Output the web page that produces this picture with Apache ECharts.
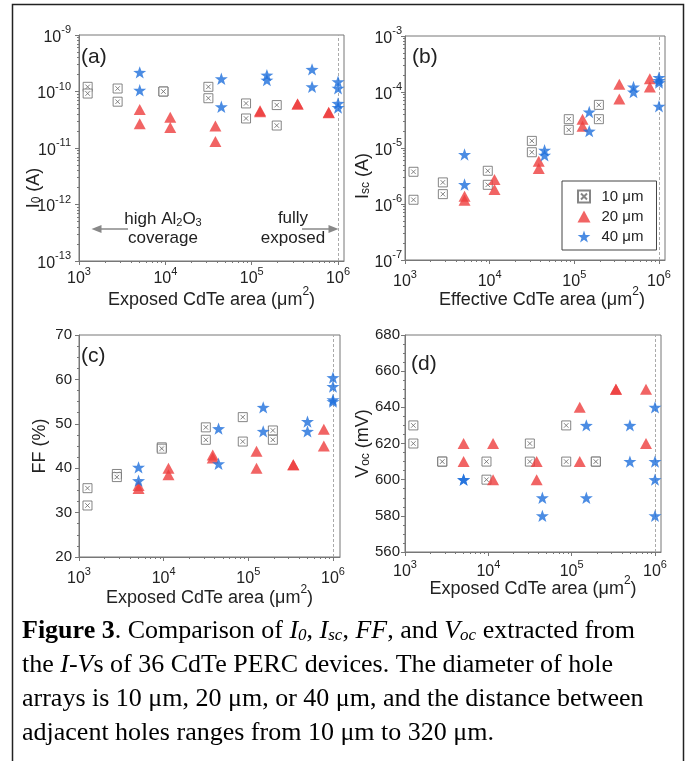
<!DOCTYPE html>
<html>
<head>
<meta charset="utf-8">
<title>Figure 3</title>
<script src="https://cdn.jsdelivr.net/npm/echarts@6/dist/echarts.min.js"></script>
<style>
html,body{margin:0;padding:0;background:#fff;}
#container{width:700px;height:761px;}
</style>
</head>
<body>
<div id="container"></div>
<script>
var FONT = '"Liberation Sans", Arial, sans-serif';
var SERIF = '"Liberation Serif", "Times New Roman", serif';

var seriesNames = ['10 μm', '20 μm', '40 μm'];

// exposed CdTe area (um^2), two devices per hole spacing
var area10 = [1260, 1260, 2800, 2800, 9500, 9500, 31500, 31500, 86000, 86000, 195000, 195000];
var area20 = [5050, 5050, 11400, 11400, 38000, 38000, 125000, 125000, 340000, 340000, 780000, 780000];
var area40 = [5050, 5050, 44500, 44500, 150000, 150000, 500000, 500000, 1000000, 1000000, 1000000, 1000000];

// (a) I0 (A)
var i0_10 = [1.21e-10, 9.2e-11, 1.13e-10, 6.6e-11, 1.0e-10, 1.0e-10, 1.21e-10, 7.6e-11, 6.15e-11, 3.33e-11, 5.75e-11, 2.5e-11];
var i0_20 = [4.8e-11, 2.7e-11, 3.5e-11, 2.3e-11, 2.44e-11, 1.3e-11, 4.56e-11, 4.4e-11, 6.0e-11, 6.0e-11, 4.3e-11, 4.2e-11];
var i0_40 = [2.18e-10, 1.05e-10, 1.68e-10, 5.37e-11, 1.95e-10, 1.59e-10, 2.46e-10, 1.21e-10, 1.49e-10, 1.14e-10, 6.15e-11, 5.2e-11];

// (b) Isc (A)
var isc_10 = [3.76e-6, 1.19e-6, 2.43e-6, 1.5e-6, 3.92e-6, 2.2e-6, 1.34e-5, 8.4e-6, 3.27e-5, 2.11e-5, 5.89e-5, 3.27e-5];
var isc_20 = [1.38e-6, 1.17e-6, 2.74e-6, 1.82e-6, 5.82e-6, 4.3e-6, 3.27e-5, 2.45e-5, 1.37e-4, 7.5e-5, 1.73e-4, 1.23e-4];
var isc_40 = [7.66e-6, 2.23e-6, 9.1e-6, 7.4e-6, 4.4e-5, 2.0e-5, 1.23e-4, 1.0e-4, 1.81e-4, 1.6e-4, 1.47e-4, 5.57e-5];

// (c) FF (%)
var ff_10 = [35.5, 31.6, 38.7, 38.0, 44.7, 44.4, 49.2, 46.4, 51.5, 46.0, 48.5, 46.4];
var ff_20 = [36.1, 35.4, 40.0, 38.5, 43.0, 42.3, 43.8, 40.0, 40.8, 40.8, 48.8, 45.0];
var ff_40 = [40.2, 37.2, 48.9, 41.0, 53.7, 48.3, 50.5, 48.3, 60.4, 58.4, 55.4, 55.0];

// (d) Voc (mV)
var voc_10 = [630, 620, 610, 610, 610, 600, 620, 610, 630, 610, 610, 610];
var voc_20 = [620, 610, 620, 600, 610, 600, 640, 610, 650, 650, 650, 620];
var voc_40 = [600, 600, 590, 580, 630, 590, 630, 610, 640, 610, 600, 580];

// tick exponents / tick values
var xTickExp = [3, 4, 5, 6];
var yTickExpA = [-13, -12, -11, -10, -9];
var yTickExpB = [-7, -6, -5, -4, -3];

function minorLog(exps, maxV) {
	var out = [];
	for (var i = 0; i < exps.length; i++) {
		for (var k = 2; k < 10; k++) {
			var v = exps[i] + Math.log10(k);
			if (v < maxV) out.push(v);
		}
	}
	return out;
}

var tickRich = {
	b: {fontSize: 16, fontFamily: FONT, color: '#222', lineHeight: 21, verticalAlign: 'bottom'},
	s: {fontSize: 11, fontFamily: FONT, color: '#222', lineHeight: 11, verticalAlign: 'top'}
};
var nameRich = {
	n: {fontSize: 18, fontFamily: FONT, color: '#222', lineHeight: 23, verticalAlign: 'bottom'},
	sub: {fontSize: 12, fontFamily: FONT, color: '#222', lineHeight: 12, verticalAlign: 'bottom'},
	sup: {fontSize: 12, fontFamily: FONT, color: '#222', lineHeight: 12, verticalAlign: 'top'}
};
function pow10(v) {
	return '{b|10}{s|' + Math.round(v) + '}';
}

var symbols = [
	{symbol: 'path://M0,0H10V10H0Z M2.5,2.5L7.5,7.5 M7.5,2.5L2.5,7.5', symbolSize: 9, symbolKeepAspect: true,
		itemStyle: {color: '#fff', borderColor: '#666', borderWidth: 1}},
	{symbol: 'triangle', symbolSize: [12, 11],
		itemStyle: {color: '#ee3d3d'}},
	{symbol: 'path://M50,0L61.76,33.82L97.55,34.55L69.02,56.18L79.39,90.45L50,70L20.61,90.45L30.98,56.18L2.45,34.55L38.24,33.82Z',
		symbolSize: 13, symbolKeepAspect: true, itemStyle: {color: '#1e6fdc'}}
];
var areas = [area10, area20, area40];

var panels = [
	{grid: {left: 79, top: 35, width: 265, height: 226}, xMax: 6.069, yLog: true, yMin: -13, yMax: -9, yTicks: yTickExpA,
		data: [i0_10, i0_20, i0_40], yName: '{n|I}{sub|0}{n| (A)}', yGap: 36, yPad: [0, 80, 0, 0], yMargin: 8,
		xName: '{n|Exposed CdTe area (μm}{sup|2}{n|)}', xGap: 25, xPad: 0, xMargin: 5},
	{grid: {left: 405, top: 36, width: 260, height: 224}, xMax: 6.071, yLog: true, yMin: -7, yMax: -3, yTicks: yTickExpB,
		data: [isc_10, isc_20, isc_40], yName: '{n|I}{sub|sc}{n| (A)}', yGap: 33, yPad: [0, 56, 0, 0], yMargin: 3,
		xName: '{n|Effective CdTe area (μm}{sup|2}{n|)}', xGap: 26, xPad: [0, 0, 0, 14], xMargin: 9},
	{grid: {left: 79, top: 335, width: 261, height: 222}, xMax: 6.083, yLog: false, yMin: 20, yMax: 70, yInterval: 10,
		data: [ff_10, ff_20, ff_40], yName: '{n|FF (%)}', yGap: 30, yPad: 0, yMargin: 7,
		xName: '{n|Exposed CdTe area (μm}{sup|2}{n|)}', xGap: 27, xPad: 0, xMargin: 9},
	{grid: {left: 405, top: 335, width: 256, height: 217}, xMax: 6.072, yLog: false, yMin: 560, yMax: 680, yInterval: 20,
		data: [voc_10, voc_20, voc_40], yName: '{n|V}{sub|oc}{n| (mV)}', yGap: 33, yPad: 0, yMargin: 5,
		xName: '{n|Exposed CdTe area (μm}{sup|2}{n|)}', xGap: 23, xPad: 0, xMargin: 7}
];

var AX = '#777';
var grids = [], xAxes = [], yAxes = [], series = [];

panels.forEach(function (p, g) {
	grids.push({left: p.grid.left, top: p.grid.top, width: p.grid.width, height: p.grid.height,
		show: true, borderColor: AX, borderWidth: 1, containLabel: false});

	var xi = xAxes.length;
	xAxes.push({
		type: 'value', gridIndex: g, position: 'bottom', min: 3, max: p.xMax,
		axisLine: {show: true, lineStyle: {color: AX}},
		axisTick: {show: true, inside: false, length: 4, customValues: xTickExp, lineStyle: {color: AX}},
		axisLabel: {customValues: xTickExp, formatter: pow10, rich: tickRich, margin: p.xMargin},
		splitLine: {show: false},
		name: p.xName, nameLocation: 'middle', nameGap: p.xGap, nameMoveOverlap: false,
		nameTextStyle: {rich: nameRich, padding: p.xPad}
	});
	xAxes.push({
		type: 'value', gridIndex: g, position: 'bottom', min: 3, max: p.xMax,
		axisLine: {show: false}, axisLabel: {show: false}, splitLine: {show: false},
		axisTick: {show: true, inside: false, length: 2, customValues: minorLog(xTickExp, p.xMax), lineStyle: {color: AX}}
	});

	var yi = yAxes.length;
	if (p.yLog) {
		yAxes.push({
			type: 'value', gridIndex: g, position: 'left', min: p.yMin, max: p.yMax,
			axisLine: {show: true, lineStyle: {color: AX}},
			axisTick: {show: true, inside: false, length: 4, customValues: p.yTicks, lineStyle: {color: AX}},
			axisLabel: {customValues: p.yTicks, formatter: pow10, rich: tickRich, margin: p.yMargin},
			splitLine: {show: false},
			name: p.yName, nameLocation: 'middle', nameGap: p.yGap, nameMoveOverlap: false,
			nameTextStyle: {rich: nameRich, padding: p.yPad}
		});
		yAxes.push({
			type: 'value', gridIndex: g, position: 'left', min: p.yMin, max: p.yMax,
			axisLine: {show: false}, axisLabel: {show: false}, splitLine: {show: false},
			axisTick: {show: true, inside: false, length: 2, customValues: minorLog(p.yTicks.slice(0, -1), p.yMax), lineStyle: {color: AX}}
		});
	} else {
		yAxes.push({
			type: 'value', gridIndex: g, position: 'left', min: p.yMin, max: p.yMax, interval: p.yInterval,
			axisLine: {show: true, lineStyle: {color: AX}},
			axisTick: {show: true, inside: false, length: 4, lineStyle: {color: AX}},
			minorTick: {show: true, splitNumber: 4, length: 2, lineStyle: {color: AX}},
			axisLabel: {fontSize: 15, fontFamily: FONT, color: '#222', margin: p.yMargin},
			splitLine: {show: false},
			name: p.yName, nameLocation: 'middle', nameGap: p.yGap, nameMoveOverlap: false,
			nameTextStyle: {rich: nameRich, padding: p.yPad}
		});
	}

	for (var s = 0; s < 3; s++) {
		var xs = areas[s], ys = p.data[s];
		var pts = xs.map(function (x, i) {
			return [Math.log10(x), p.yLog ? Math.log10(ys[i]) : ys[i]];
		});
		var item = {
			name: seriesNames[s], type: 'scatter', xAxisIndex: xi, yAxisIndex: yi,
			symbol: symbols[s].symbol, symbolSize: symbols[s].symbolSize,
			symbolKeepAspect: !!symbols[s].symbolKeepAspect,
			itemStyle: symbols[s].itemStyle, data: pts, z: 3 + s,
			emphasis: {disabled: true}
		};
		if (s == 0) {
			item.markLine = {
				silent: true, symbol: 'none', label: {show: false},
				lineStyle: {type: [3, 2], color: '#aaa', width: 1},
				data: [{xAxis: 6}]
			};
		}
		series.push(item);
	}
});

function txt(x, y, text, size, align, rich) {
	return {type: 'text', x: x, y: y, silent: true,
		style: {text: text, fontSize: size, fontFamily: FONT, fill: '#222', align: align || 'left', verticalAlign: 'middle', rich: rich}};
}
var annRich = {
	t: {fontSize: 17, fontFamily: FONT, color: '#222', lineHeight: 20, verticalAlign: 'bottom'},
	sb: {fontSize: 11, fontFamily: FONT, color: '#222', lineHeight: 11, verticalAlign: 'bottom'}
};
var capRich = {
	r: {fontSize: 26, fontFamily: SERIF, color: '#000', lineHeight: 32, verticalAlign: 'bottom'},
	b: {fontSize: 26, fontFamily: SERIF, color: '#000', fontWeight: 'bold', lineHeight: 32, verticalAlign: 'bottom'},
	i: {fontSize: 26, fontFamily: SERIF, color: '#000', fontStyle: 'italic', lineHeight: 32, verticalAlign: 'bottom'},
	is: {fontSize: 17, fontFamily: SERIF, color: '#000', fontStyle: 'italic', lineHeight: 17, verticalAlign: 'bottom'}
};
var captionLines = [
	'{b|Figure 3}{r|. Comparison of }{i|I}{is|0}{r|, }{i|I}{is|sc}{r|, }{i|FF}{r|, and }{i|V}{is|oc}{r| extracted from}',
	'{r|the }{i|I-V}{r|s of 36 CdTe PERC devices. The diameter of hole}',
	'{r|arrays is 10 μm, 20 μm, or 40 μm, and the distance between}',
	'{r|adjacent holes ranges from 10 μm to 320 μm.}'
];

var graphics = [
	{type: 'rect', silent: true, shape: {x: 12.5, y: 4.5, width: 671, height: 800},
		style: {fill: 'none', stroke: '#222', lineWidth: 1.5}},
	txt(81, 57, '(a)', 21), txt(412, 57, '(b)', 21), txt(81, 356, '(c)', 21), txt(411, 364, '(d)', 21),
	txt(163, 218, '{t|high Al}{sb|2}{t|O}{sb|3}', 17, 'center', annRich),
	txt(163, 238, 'coverage', 17, 'center'),
	txt(293, 218, 'fully', 17, 'center'),
	txt(293, 238, 'exposed', 17, 'center'),
	{type: 'line', silent: true, shape: {x1: 128, y1: 229, x2: 100, y2: 229}, style: {stroke: '#888', lineWidth: 1.5}},
	{type: 'polygon', silent: true, shape: {points: [[91.5, 229], [101.5, 225], [101.5, 233]]}, style: {fill: '#888'}},
	{type: 'line', silent: true, shape: {x1: 302, y1: 229, x2: 330, y2: 229}, style: {stroke: '#888', lineWidth: 1.5}},
	{type: 'polygon', silent: true, shape: {points: [[338.5, 229], [328.5, 225], [328.5, 233]]}, style: {fill: '#888'}}
];
captionLines.forEach(function (line, i) {
	graphics.push({type: 'text', silent: true, x: 22, y: 612 + i * 34,
		style: {text: line, rich: capRich, align: 'left', verticalAlign: 'top'}});
});

var myChart = echarts.init(document.getElementById('container'));
var option = {
	animation: false,
	backgroundColor: '#fff',
	textStyle: {fontFamily: FONT},
	grid: grids,
	xAxis: xAxes,
	yAxis: yAxes,
	legend: {
		data: seriesNames, orient: 'vertical', left: 562, top: 181,
		padding: [8, 13, 6, 15], itemGap: 5, itemWidth: 13, itemHeight: 12,
		borderColor: '#444', borderWidth: 1, backgroundColor: '#fff',
		textStyle: {fontSize: 15, fontFamily: FONT, color: '#222', padding: [0, 0, 0, 6]},
		selectedMode: false
	},
	series: series,
	graphic: graphics
};
myChart.setOption(option);
</script>
</body>
</html>
